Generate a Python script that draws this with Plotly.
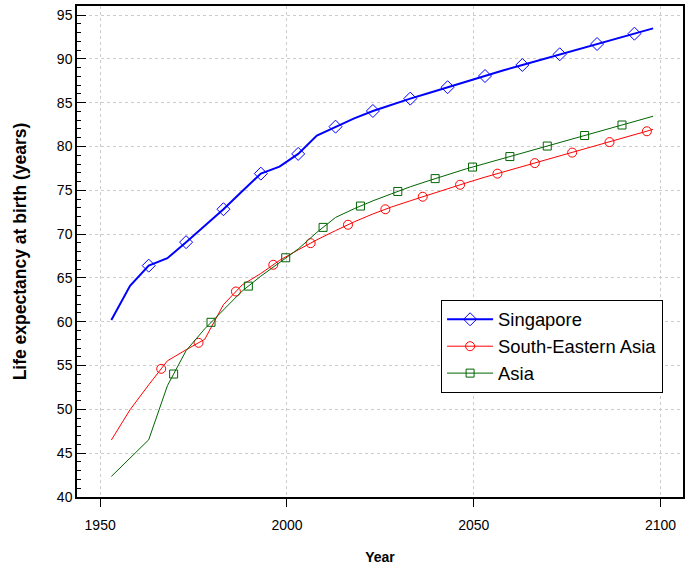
import numpy as np
import plotly.graph_objects as go

# ---- data ----
years = [1953, 1958, 1963, 1968, 1973, 1978, 1983, 1988, 1993, 1998,
         2003, 2008, 2013, 2018, 2023, 2028, 2033, 2038, 2043, 2048,
         2053, 2058, 2063, 2068, 2073, 2078, 2083, 2088, 2093, 2098]

singapore = [60.2, 64.1, 66.4, 67.25, 69.08, 71.0, 72.84, 74.9, 76.9, 77.7,
             79.15, 81.24, 82.26, 83.2, 84.05, 84.8, 85.46, 86.1, 86.76, 87.4,
             88.04, 88.7, 89.3, 89.9, 90.52, 91.1, 91.69, 92.3, 92.87, 93.48]

se_asia = [46.5, 49.96, 52.8, 55.54, 56.8, 58.0, 61.95, 64.2, 65.5, 67.0,
           68.2, 69.35, 70.4, 71.4, 72.3, 73.1, 73.8, 74.5, 75.2, 75.85,
           76.5, 77.1, 77.7, 78.3, 78.9, 79.5, 80.1, 80.7, 81.3, 81.95]

asia = [42.35, 44.45, 46.53, 52.7, 56.7, 59.2, 61.4, 63.5, 65.2, 66.8,
        68.3, 70.2, 71.9, 72.9, 73.8, 74.6, 75.4, 76.1, 76.8, 77.45,
        78.05, 78.65, 79.25, 79.85, 80.45, 81.05, 81.65, 82.25, 82.85, 83.45]

series_names = ["Singapore", "South-Eastern Asia", "Asia"]
x_ticks = [1950, 2000, 2050, 2100]
y_ticks = [40, 45, 50, 55, 60, 65, 70, 75, 80, 85, 90, 95]

title_text = "Life expectancy at birth (both sexes combined)"
x_title = "Year"
y_title = "Life expectancy at birth (years)"

# ---- style ----
FONT = "Liberation Sans, Arial, sans-serif"
styles = [
    dict(color="#0000FF", width=2, symbol="diamond-open", size=10),
    dict(color="#FF0000", width=1, symbol="circle-open", size=9),
    dict(color="#006400", width=1, symbol="square-open", size=8),
]
# markers are spread along each line every 10 years, staggered per series
marker_step = 10.0
marker_offsets = [0.0, 10.0 / 3, 20.0 / 3]

fig = go.Figure()
all_series = [singapore, se_asia, asia]
xs = np.array(years, dtype=float)
for i, (name, vals, st) in enumerate(zip(series_names, all_series, styles)):
    ys = np.array(vals, dtype=float)
    fig.add_trace(go.Scatter(
        x=xs, y=ys, mode="lines", showlegend=False,
        line=dict(color=st["color"], width=st["width"]),
        hoverinfo="skip"))
    mx = np.arange(xs[0] + marker_step + marker_offsets[i], xs[-1], marker_step)
    my = np.interp(mx, xs, ys)
    fig.add_trace(go.Scatter(
        x=mx, y=my, mode="markers", showlegend=False,
        marker=dict(symbol=st["symbol"], size=st["size"], color=st["color"],
                    line=dict(width=1, color=st["color"]))))
    # legend entry (line + marker)
    fig.add_trace(go.Scatter(
        x=[None], y=[None], mode="lines+markers", name=name,
        line=dict(color=st["color"], width=st["width"]),
        marker=dict(symbol=st["symbol"], size=st["size"], color=st["color"],
                    line=dict(width=1, color=st["color"]))))

fig.update_layout(
    width=695, height=568,
    margin=dict(l=77, r=12, t=6, b=71, autoexpand=False),
    paper_bgcolor="white", plot_bgcolor="white",
    font=dict(family=FONT, size=14, color="black"),
    legend=dict(x=0.6008, y=0.4016, xanchor="left", yanchor="top",
                bordercolor="black", borderwidth=1, bgcolor="white",
                font=dict(size=18.4, family=FONT, color="black"),
                itemwidth=46),
    showlegend=True,
)

# title: sits above the top of the page, so only its lowest pixels show
fig.add_annotation(
    text="<b>" + title_text + "</b>", xref="paper", yref="paper",
    x=0.5, y=1.0102, xanchor="center", yanchor="bottom", showarrow=False,
    font=dict(size=22, family=FONT, color="black"))

fig.update_xaxes(
    range=[1943.8, 2106.0], tickvals=x_ticks, ticks="outside", ticklen=8,
    tickcolor="black", tickwidth=1, automargin=False,
    showline=True, linecolor="black", linewidth=1.5, mirror=True,
    showgrid=True, gridcolor="#cccccc", griddash="dot", gridwidth=1,
    zeroline=False, ticklabelstandoff=6,
    title=dict(text="<b>" + x_title + "</b>", font=dict(size=14), standoff=21),
)
fig.update_yaxes(
    range=[40, 96.03], tickvals=y_ticks, ticks="inside", ticklen=9,
    tickcolor="black", tickwidth=1, automargin=False,
    minor=dict(dtick=1, ticks="inside", ticklen=4, tickcolor="black",
               tickwidth=1, showgrid=False),
    showline=True, linecolor="black", linewidth=1.5, mirror=True,
    showgrid=True, gridcolor="#cccccc", griddash="dot", gridwidth=1,
    zeroline=False,
    title=dict(text="<b>" + y_title + "</b>", font=dict(size=17.5), standoff=26),
)

fig.write_html("out.html",
               config={"displayModeBar": False},
               post_script="document.body.style.margin='0';")
